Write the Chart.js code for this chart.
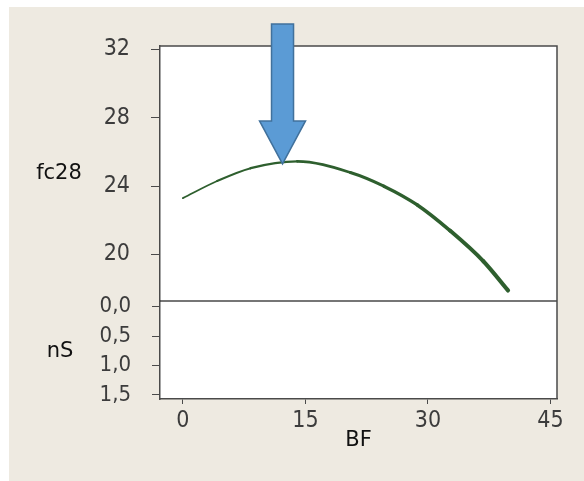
<!DOCTYPE html>
<html>
<head>
<meta charset="utf-8">
<script src="https://cdn.jsdelivr.net/npm/chart.js@4.4.1/dist/chart.umd.min.js"></script>
<style>
  body { margin: 0; background: #fff; }
  canvas { display: block; }
</style>
</head>
<body>
<canvas id="myChart" width="584" height="481"></canvas>
<script>
  // values
  const bfValues = [0, 4.2, 8.3, 14.0, 20.5, 24.6, 28.7, 32.7, 36.8, 39.8];
  const fcValues = [23.3, 24.3, 25.05, 25.45, 24.8, 24.0, 22.9, 21.4, 19.6, 17.9];
  const bfTicks = [0, 15, 30, 45];
  const fcTicks = [20, 24, 28, 32];
  const nsTicks = [0, 0.5, 1, 1.5];
  const arrowTip = [12.2, 25.3];

  const tickFont = { family: "'Liberation Sans Narrow', 'DejaVu Sans Condensed', 'Liberation Sans'", size: 23 };
  const titleFont = { family: 'DejaVu Sans', size: 21 };
  const lineCol = '#4a4a4a';

  const points = bfValues.map((x, i) => ({ x: x, y: fcValues[i] }));

  const data = {
    datasets: [{
      label: 'fc28',
      data: points,
      yAxisID: 'y',
      borderColor: '#2E5F2E',
      borderWidth: 2,
      borderCapStyle: 'round',
      borderJoinStyle: 'round',
      cubicInterpolationMode: 'monotone',
      pointRadius: 0,
      segment: {
        borderWidth: ctx => 1.8 + ctx.p0DataIndex * 0.3
      }
    }]
  };

  const setTicks = list => scale => { scale.ticks = list.map(v => ({ value: v })); };

  const panelPlugin = {
    id: 'panel',
    beforeDraw(chart) {
      const c = chart.ctx, a = chart.chartArea;
      c.save();
      c.fillStyle = '#fff';
      c.fillRect(0, 0, chart.width, chart.height);
      c.fillStyle = '#EEEAE1';
      c.fillRect(9, 7, chart.width - 9, chart.height - 7);
      c.fillStyle = '#fff';
      c.fillRect(a.left, a.top, a.right - a.left, a.bottom - a.top);
      c.restore();
    },
    afterDraw(chart) {
      const c = chart.ctx, a = chart.chartArea;
      const ns = chart.scales.ns, y = chart.scales.y, x = chart.scales.x;
      c.save();
      c.strokeStyle = lineCol;
      c.lineWidth = 1.5;
      c.beginPath();
      c.moveTo(a.left, a.top);
      c.lineTo(a.right, a.top);
      c.lineTo(a.right, a.bottom);
      c.moveTo(a.left, ns.top);
      c.lineTo(a.right, ns.top);
      c.stroke();

      // arrow pointing at the maximum
      const tx = x.getPixelForValue(arrowTip[0]);
      const ty = y.getPixelForValue(arrowTip[1]);
      c.beginPath();
      c.moveTo(tx, ty);
      c.lineTo(tx - 23, ty - 43);
      c.lineTo(tx - 11, ty - 43);
      c.lineTo(tx - 11, ty - 140);
      c.lineTo(tx + 11, ty - 140);
      c.lineTo(tx + 11, ty - 43);
      c.lineTo(tx + 23, ty - 43);
      c.closePath();
      c.fillStyle = '#5B9BD5';
      c.fill();
      c.strokeStyle = '#41719C';
      c.lineWidth = 1.5;
      c.stroke();

      // horizontal axis titles at the left
      c.fillStyle = '#111';
      c.font = titleFont.size + 'px ' + titleFont.family;
      c.textAlign = 'center';
      c.textBaseline = 'middle';
      c.fillText('fc28', 59, (y.top + y.bottom) / 2);
      c.fillText('nS', 60, (ns.top + ns.bottom) / 2 + 2);
      c.restore();
    }
  };

  const config = {
    type: 'line',
    data: data,
    plugins: [panelPlugin],
    options: {
      responsive: false,
      animation: false,
      layout: { padding: { left: 100, top: 46, right: 27, bottom: 32 } },
      plugins: {
        legend: { display: false },
        tooltip: { enabled: false }
      },
      scales: {
        x: {
          type: 'linear',
          min: -2.8,
          max: 45.8,
          afterBuildTicks: setTicks(bfTicks),
          afterFit: s => { s.height = 50; },
          grid: { drawOnChartArea: false, tickLength: 5, color: lineCol },
          border: { color: lineCol, width: 1.5 },
          ticks: { font: tickFont, color: '#3c3c3c', padding: 3, autoSkip: false },
          title: { display: true, text: 'BF', font: titleFont, color: '#111', padding: { top: 0, bottom: -4 } }
        },
        y: {
          type: 'linear',
          position: 'left',
          stack: 'main',
          stackWeight: 255,
          weight: 1,
          min: 17.28,
          max: 32.2,
          afterBuildTicks: setTicks(fcTicks),
          afterFit: s => { s.width = 60; },
          grid: { drawOnChartArea: false, tickLength: 9, color: lineCol },
          border: { color: lineCol, width: 1.5 },
          ticks: { font: tickFont, color: '#3c3c3c', padding: 21, autoSkip: false }
        },
        ns: {
          type: 'linear',
          position: 'left',
          stack: 'main',
          stackWeight: 98,
          weight: 0,
          reverse: true,
          min: -0.097,
          max: 1.57,
          afterBuildTicks: setTicks(nsTicks),
          afterFit: s => { s.width = 60; },
          grid: { drawOnChartArea: false, tickLength: 8, color: lineCol },
          border: { color: lineCol, width: 1.5 },
          ticks: {
            font: { family: tickFont.family, size: 22 },
            color: '#3c3c3c',
            padding: 21,
            autoSkip: false,
            callback: v => v.toFixed(1).replace('.', ',')
          }
        }
      }
    }
  };

  const myChart = new Chart(
    document.getElementById('myChart'),
    config
  );
</script>
</body>
</html>
